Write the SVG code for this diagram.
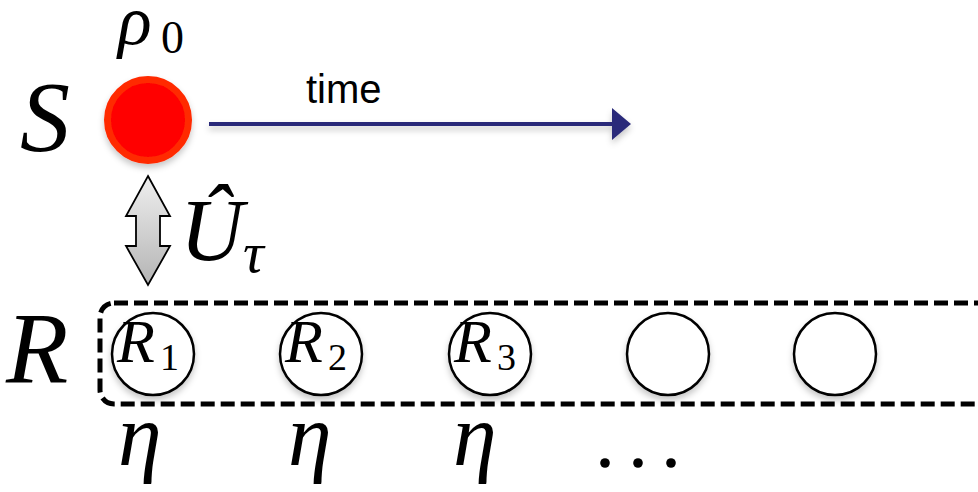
<svg xmlns="http://www.w3.org/2000/svg" width="978" height="492" viewBox="0 0 978 492">
<style>
.m{font-family:"Liberation Serif","DejaVu Serif",serif;font-style:italic;fill:#000}
.n{font-family:"Liberation Serif","DejaVu Serif",serif;fill:#000}
.node{fill:#fff;stroke:#000;stroke-width:2.5}
</style>
<defs>
<filter id="sh" x="-30%" y="-30%" width="160%" height="170%">
<feDropShadow dx="0" dy="4" stdDeviation="3" flood-color="#000" flood-opacity="0.22"/>
</filter>
<linearGradient id="g" x1="0" y1="0" x2="0" y2="1">
<stop offset="0" stop-color="#efefef"/>
<stop offset="1" stop-color="#b4b4b4"/>
</linearGradient>
</defs>
<rect width="978" height="492" fill="#fff"/>

<g id="system">
<text class="m" x="20" y="150" font-size="100">S</text>
<circle cx="148" cy="120" r="40.5" fill="#ff0000" stroke="#ff2a00" stroke-width="7" filter="url(#sh)"/>
<text class="m" x="118" y="44" font-size="70">ρ</text>
<text class="n" x="161" y="53" font-size="46">0</text>
</g>

<g id="connectors">
<g id="time-arrow" filter="url(#sh)">
<line x1="209" y1="124" x2="614" y2="124" stroke="#2b2b7a" stroke-width="4"/>
<polygon points="612,108 631,124 612,140" fill="#2b2b7a"/>
</g>
<text x="306" y="103" font-family="Liberation Sans, Arial, sans-serif" font-size="40" fill="#000">time</text>
<polygon id="coupling" points="148,176 170,216 160,216 160,246 170,246 148,285 126,246 136,246 136,216 126,216" fill="url(#g)" stroke="#000" stroke-width="1.8" stroke-linejoin="miter"/>
<g id="coupling-label">
<text class="m" x="180" y="260" font-size="88">Û</text>
<text class="m" x="243" y="272" font-size="58">τ</text>
</g>
</g>

<g id="reservoir">
<text class="m" x="6" y="383" font-size="102">R</text>
<rect x="100" y="303" width="900" height="101" rx="14" fill="none" stroke="#000" stroke-width="5" stroke-dasharray="14 6"/>
</g>

<g id="R1">
<circle class="node" cx="153" cy="354" r="41" filter="url(#sh)"/>
<text class="m" x="117" y="362" font-size="62">R</text>
<text class="n" x="160" y="370" font-size="38">1</text>
</g>
<g id="R2">
<circle class="node" cx="321" cy="354" r="41" filter="url(#sh)"/>
<text class="m" x="285" y="362" font-size="62">R</text>
<text class="n" x="328" y="370" font-size="38">2</text>
</g>
<g id="R3">
<circle class="node" cx="490" cy="354" r="41" filter="url(#sh)"/>
<text class="m" x="454" y="362" font-size="62">R</text>
<text class="n" x="497" y="370" font-size="38">3</text>
</g>
<g id="R4">
<circle class="node" cx="668" cy="354" r="41" filter="url(#sh)"/>
</g>
<g id="R5">
<circle class="node" cx="835" cy="354" r="41" filter="url(#sh)"/>
</g>

<g id="eta-labels">
<text class="m" x="118" y="465" font-size="88">η</text>
<text class="m" x="288" y="465" font-size="88">η</text>
<text class="m" x="453" y="465" font-size="88">η</text>
<circle cx="605" cy="463" r="4.8" fill="#000"/>
<circle cx="638" cy="463" r="4.8" fill="#000"/>
<circle cx="671" cy="463" r="4.8" fill="#000"/>
</g>
</svg>
